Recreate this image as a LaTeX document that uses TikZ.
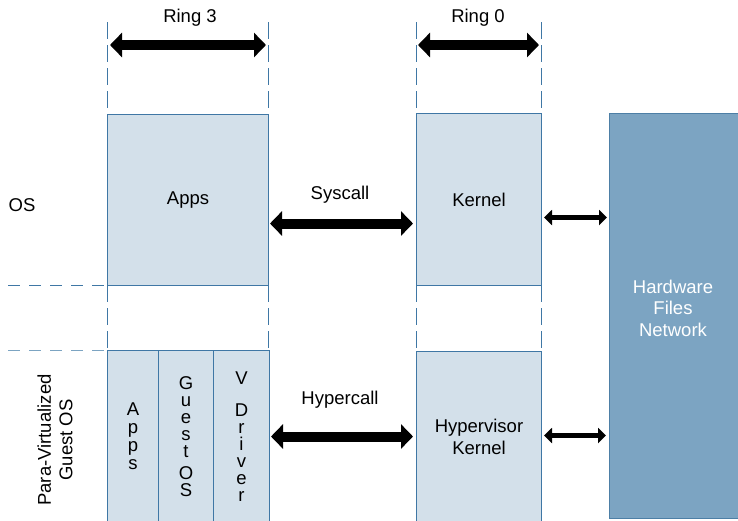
\documentclass[tikz,border=0pt]{standalone}
\usepackage{fontspec}
\setmainfont{Liberation Sans}
\usepackage{tikz}
\usetikzlibrary{arrows.meta}
\usetikzlibrary{positioning}
\definecolor{boxfill}{HTML}{D3E0EA}
\definecolor{boxline}{HTML}{3F77A5}
\definecolor{hwfill}{HTML}{7CA4C2}
\definecolor{hwline}{HTML}{4D7FA6}
\definecolor{guidelight}{HTML}{7CA4C2}

\begin{document}
\begin{tikzpicture}[x=1pt, y=-1pt,
    font=\fontsize{18.5}{21.5}\selectfont,
    box/.style={draw=boxline, fill=boxfill, line width=1pt, anchor=north west,
      inner sep=0pt, align=center},
    vstack/.style={font=\fontsize{18.5}{17}\selectfont},
    guide/.style={draw=boxline, line width=1pt, dash pattern=on 17pt off 6pt},
    hguide/.style={draw=boxline, line width=1pt, dash pattern=on 12pt off 9pt},
    bigarrow/.style={line width=10pt,
      {Triangle[length=12pt, width=24pt]}-{Triangle[length=12pt, width=24pt]}},
    smallarrow/.style={line width=5pt,
      {Triangle[length=8pt, width=15pt]}-{Triangle[length=8pt, width=15pt]}}]
  \useasboundingbox (0, 0) rectangle (738, 520);

  % guide lines
  \foreach \xg in {107, 268, 416, 541} {
    \draw [guide] (\xg, 22) -- (\xg, 114);
    \draw [guide] (\xg, 285) -- (\xg, 350);
  }
  \draw [hguide] (8, 285) -- (107, 285);
  \draw [hguide, draw=guidelight] (8, 350) -- (107, 350);

  % boxes
  \node [box, minimum width=161pt, minimum height=171pt] (apps) at (107, 114) {Apps};
  \node [box, minimum width=125pt, minimum height=172pt] (kernel) at (416, 113) {Kernel};
  \node [box, draw=hwline, fill=hwfill, minimum width=136pt, minimum height=405pt] (hw) at (609, 113) {};
  \node [text=white, align=center] (hwtext) at (673, 308) {Hardware\\Files\\Network};

  \node [box, font=\fontsize{18.5}{18}\selectfont, minimum width=51pt, minimum height=172pt] (gapps) at (107, 350) {A\\p\\p\\s};
  \node [box, vstack, minimum width=55pt, minimum height=172pt] (gos) at (158, 350) {G\\u\\e\\s\\t\\[5pt]O\\S};
  \node [box, vstack, minimum width=56pt, minimum height=172pt] (vdriver) at (213, 350) {V\\[15pt]D\\r\\i\\v\\e\\r};
  \node [box, minimum width=125pt, minimum height=171pt] (hyper) at (416, 351) {Hypervisor\\Kernel};

  % labels
  \node (ring3) at (190, 18) {Ring 3};
  \node (ring0) at (478, 18) {Ring 0};
  \node (oslabel) at (22, 205) {OS};
  \node [rotate=90, align=center] (pvlabel) at (55, 440) {Para-Virtualized\\Guest OS};
  \node (syscall) at (340, 195) {Syscall};
  \node (hypercall) at (340, 400) {Hypercall};

  % arrows
  \coordinate (r3a) at (110, 45);
  \coordinate (r3b) at (266, 45);
  \coordinate (r0a) at (418, 45);
  \coordinate (r0b) at (539, 45);
  \draw [bigarrow] (r3a) -- (r3b);
  \draw [bigarrow] (r0a) -- (r0b);
  \draw [bigarrow, shorten <=1pt, shorten >=3pt] ([yshift=-23.5pt]apps.east) -- ([yshift=-23.5pt]apps.east -| kernel.west);
  \draw [bigarrow, shorten <=1pt, shorten >=3pt] (vdriver.east) -- (vdriver.east -| hyper.west);
  \draw [smallarrow, shorten <=2pt, shorten >=2pt] ([yshift=-18pt]kernel.east) -- ([yshift=-18pt]kernel.east -| hw.west);
  \draw [smallarrow, shorten <=2pt, shorten >=3pt] ([yshift=1.5pt]hyper.east) -- ([yshift=1.5pt]hyper.east -| hw.west);
\end{tikzpicture}
\end{document}
